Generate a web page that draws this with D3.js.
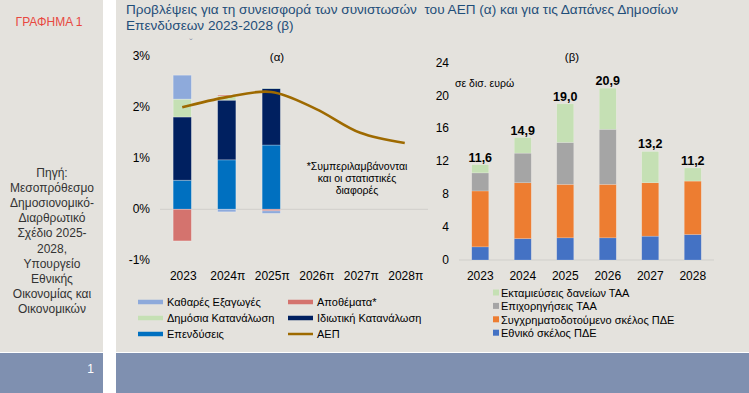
<!DOCTYPE html>
<html><head><meta charset="utf-8">
<script src="https://cdn.jsdelivr.net/npm/d3@7"></script>
<style>
html,body{margin:0;padding:0;background:#fff;}
svg{display:block;font-family:"Liberation Sans",Arial,sans-serif;}
</style></head>
<body><svg id="c" width="749" height="393"></svg>
<script>
// ---- Data (α) contributions to GDP growth, percentage points ----
const catsA = ["2023","2024π","2025π","2026π","2027π","2028π"];
const barYearsA = ["2023","2024π","2025π"];
const investment   = [0.57, 0.97, 1.26];
const privateCons  = [1.24, 1.17, 1.11];
const publicCons   = [0.35, 0.08, 0.01];
const inventories  = [-0.62, 0.02, -0.03];
const netExports   = [0.47, -0.05, -0.05];
const gdp          = [2.0, 2.2, 2.3, 1.97, 1.5, 1.3];
const ticksA = [-1, 0, 1, 2, 3];

// ---- Data (β) public investment, bn euro ----
const catsB = ["2023","2024","2025","2026","2027","2028"];
const nationalPDE = [1.6, 2.6, 2.7, 2.7, 2.9, 3.1];
const cofinPDE    = [6.8, 6.8, 6.5, 6.5, 6.5, 6.5];
const rrfGrants   = [2.2, 3.6, 5.1, 6.7, 0.0, 0.0];
const rrfLoans    = [1.0, 1.9, 4.7, 5.0, 3.8, 1.6];
const totalsB     = ["11,6","14,9","19,0","20,9","13,2","11,2"];
const ticksB = [0, 4, 8, 12, 16, 20, 24];

const svg = d3.select("#c");
const panel = "#e4e2dd";

// background panels
svg.append("rect").attr("x",0).attr("y",0).attr("width",103).attr("height",352).attr("fill",panel);
svg.append("rect").attr("x",116).attr("y",0).attr("width",633).attr("height",352).attr("fill",panel);
svg.append("rect").attr("x",0).attr("y",353).attr("width",103).attr("height",40).attr("fill","#7f90b0");
svg.append("rect").attr("x",116).attr("y",353).attr("width",633).attr("height",40).attr("fill","#7f90b0");
svg.append("text").attr("x",94).attr("y",373).attr("text-anchor","end").attr("fill","#fff").attr("font-size",12).text("1");

// left panel texts
svg.append("text").attr("x",49).attr("y",26).attr("text-anchor","middle").attr("fill","#e8483f").attr("font-size",12).text("ΓΡΑΦΗΜΑ 1");
const src = ["Πηγή:","Μεσοπρόθεσμο","Δημοσιονομικό-","Διαρθρωτικό","Σχέδιο 2025-","2028,","Υπουργείο","Εθνικής","Οικονομίας και","Οικονομικών"];
svg.append("g").selectAll("text").data(src).join("text")
  .attr("x",52).attr("y",(d,i)=>177+i*15.1).attr("text-anchor","middle")
  .attr("fill","#333").attr("font-size",12).text(d=>d);

// title
const title = svg.append("text").attr("fill","#1f4e79").attr("font-size",13.6).style("white-space","pre");
title.append("tspan").attr("x",126).attr("y",14).text("Προβλέψεις για τη συνεισφορά των συνιστωσών\u00a0 του ΑΕΠ (α) και για τις Δαπάνες Δημοσίων");
title.append("tspan").attr("x",126).attr("y",30).text("Επενδύσεων 2023-2028 (β)");

// ================= Chart (α) =================
const xA = d3.scaleBand().domain(catsA).range([160,427]);
const yA = d3.scaleLinear().domain([-1,3]).range([260.3,56.3]);
const cA = {inv:"#0070c0", priv:"#002060", pub:"#c5e0b4", invt:"#d4736e", nx:"#8eaadb"};
const keysA = ["inv","priv","pub","invt","nx"];
const rowsA = barYearsA.map((y,i)=>({year:y, inv:investment[i], priv:privateCons[i], pub:publicCons[i], invt:inventories[i], nx:netExports[i]}));
const stackA = d3.stack().keys(keysA).offset(d3.stackOffsetDiverging)(rowsA);

const gA = svg.append("g");
gA.selectAll("text.yt").data(ticksA).join("text").attr("class","yt")
  .attr("x",150).attr("y",d=>yA(d)+4).attr("text-anchor","end").attr("font-size",12).attr("fill","#000")
  .text(d=>d+"%");
gA.append("line").attr("x1",xA.range()[0]).attr("x2",428).attr("y1",yA(0)).attr("y2",yA(0)).attr("stroke","#d0cfcb").attr("stroke-width",1);
const bwA = xA.bandwidth()*0.41;
stackA.forEach(s=>{
  gA.selectAll(null).data(s).join("rect")
    .attr("x",d=>xA(d.data.year)+xA.bandwidth()/2-bwA/2)
    .attr("width",bwA)
    .attr("y",d=>yA(Math.max(d[0],d[1])))
    .attr("height",d=>Math.abs(yA(d[0])-yA(d[1])))
    .attr("fill",cA[s.key])
    .attr("stroke","rgba(255,255,255,0.35)").attr("stroke-width",0.8);
});
const lineA = d3.line().x((d,i)=>xA(catsA[i])+xA.bandwidth()/2).y(d=>yA(d)).curve(d3.curveCatmullRom.alpha(0.5));
gA.append("path").attr("d",lineA(gdp)).attr("fill","none").attr("stroke","#9e6a00").attr("stroke-width",2.6);
gA.selectAll("text.xt").data(catsA).join("text").attr("class","xt")
  .attr("x",d=>xA(d)+xA.bandwidth()/2+1).attr("y",280).attr("text-anchor","middle").attr("font-size",12).attr("fill","#000").text(d=>d);
gA.append("text").attr("x",277).attr("y",61).attr("text-anchor","middle").attr("font-size",11.5).text("(α)");
gA.append("text").attr("x",191).attr("y",47).attr("text-anchor","middle").attr("font-size",10).attr("fill","#8a93a8").text("ˇ");
const note = ["*Συμπεριλαμβάνονται","και οι στατιστικές","διαφορές"];
gA.selectAll("text.nt").data(note).join("text").attr("class","nt")
  .attr("x",357).attr("y",(d,i)=>170+i*11.8).attr("text-anchor","middle").attr("font-size",10.5).attr("fill","#000").text(d=>d);

// legend (α)
const legA = [
  {t:"Καθαρές Εξαγωγές", c:cA.nx, col:0, row:0},
  {t:"Αποθέματα*", c:cA.invt, col:1, row:0},
  {t:"Δημόσια Κατανάλωση", c:cA.pub, col:0, row:1},
  {t:"Ιδιωτική Κατανάλωση", c:cA.priv, col:1, row:1},
  {t:"Επενδύσεις", c:cA.inv, col:0, row:2},
  {t:"ΑΕΠ", c:"#9e6a00", col:1, row:2, line:true}
];
const lgA = svg.append("g").selectAll("g").data(legA).join("g")
  .attr("transform",d=>`translate(${d.col?288:138},${302+d.row*16})`);
lgA.append("line").attr("x1",0).attr("x2",25).attr("y1",0).attr("y2",0)
  .attr("stroke",d=>d.c).attr("stroke-width",d=>d.line?2.5:4.5);
lgA.append("text").attr("x",29).attr("y",4).attr("font-size",11).attr("fill","#000").text(d=>d.t);

// ================= Chart (β) =================
const xB = d3.scaleBand().domain(catsB).range([459,714]);
const yB = d3.scaleLinear().domain([0,24]).range([260,62.7]);
const cB = {nat:"#4472c4", cof:"#ed7d31", gr:"#a5a5a5", ln:"#c5e0b4"};
const keysB = ["nat","cof","gr","ln"];
const rowsB = catsB.map((y,i)=>({year:y, nat:nationalPDE[i], cof:cofinPDE[i], gr:rrfGrants[i], ln:rrfLoans[i]}));
const stackB = d3.stack().keys(keysB)(rowsB);
const gB = svg.append("g");
gB.selectAll("text.yt").data(ticksB).join("text").attr("class","yt")
  .attr("x",449).attr("y",d=>yB(d)+4).attr("text-anchor","end").attr("font-size",12).attr("fill","#000").text(d=>d);
gB.append("line").attr("x1",459).attr("x2",714).attr("y1",yB(0)).attr("y2",yB(0)).attr("stroke","#d0cfcb");
const bwB = xB.bandwidth()*0.4;
stackB.forEach(s=>{
  gB.selectAll(null).data(s).join("rect")
    .attr("x",d=>xB(d.data.year)+xB.bandwidth()/2-bwB/2)
    .attr("width",bwB)
    .attr("y",d=>yB(d[1]))
    .attr("height",d=>yB(d[0])-yB(d[1]))
    .attr("fill",cB[s.key])
    .attr("stroke","rgba(255,255,255,0.3)").attr("stroke-width",0.6);
});
gB.selectAll("text.tot").data(rowsB).join("text").attr("class","tot")
  .attr("x",d=>xB(d.year)+xB.bandwidth()/2).attr("y",(d,i)=>yB(stackB[3][i][1])-3)
  .attr("text-anchor","middle").attr("font-size",12.5).attr("font-weight","bold").attr("fill","#000")
  .text((d,i)=>totalsB[i]);
gB.selectAll("text.xt").data(catsB).join("text").attr("class","xt")
  .attr("x",d=>xB(d)+xB.bandwidth()/2).attr("y",280).attr("text-anchor","middle").attr("font-size",12).attr("fill","#000").text(d=>d);
gB.append("text").attr("x",572).attr("y",61).attr("text-anchor","middle").attr("font-size",11.5).text("(β)");
gB.append("text").attr("x",455).attr("y",87).attr("font-size",10.5).attr("fill","#000").text("σε δισ. ευρώ");

// legend (β)
const legB = [
  {t:"Εκταμιεύσεις δανείων ΤΑΑ", c:cB.ln},
  {t:"Επιχορηγήσεις ΤΑΑ", c:cB.gr},
  {t:"Συγχρηματοδοτούμενο σκέλος ΠΔΕ", c:cB.cof},
  {t:"Εθνικό σκέλος ΠΔΕ", c:cB.nat}
];
const lgB = svg.append("g").selectAll("g").data(legB).join("g")
  .attr("transform",(d,i)=>`translate(493,${293+i*13.4})`);
lgB.append("rect").attr("x",0).attr("y",-3.5).attr("width",6).attr("height",6).attr("fill",d=>d.c);
lgB.append("text").attr("x",8).attr("y",4).attr("font-size",11).attr("fill","#000").text(d=>d.t);
</script></body></html>
